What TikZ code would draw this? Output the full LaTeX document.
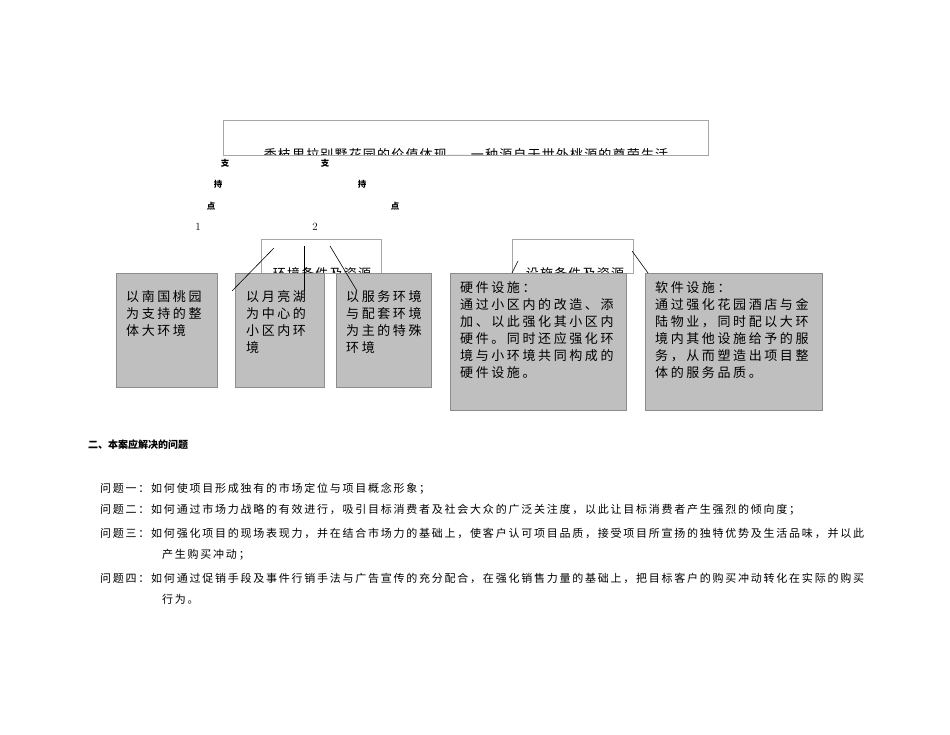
\documentclass[tikz,border=0pt]{standalone}
\usepackage{fontspec}
\newfontfamily\cjk{Noto Sans CJK SC}
\newfontfamily\cjksp[LetterSpace=20]{Noto Sans CJK SC}
\newfontfamily\cjkq[LetterSpace=16]{Noto Sans CJK SC}
\newfontfamily\cjkt[LetterSpace=9]{Noto Sans CJK SC}
\begin{document}
\begin{tikzpicture}[x=1pt,y=-1pt,
  frame/.style={draw=black!35,line width=0.7pt},
  gbox/.style={draw=black!45,fill=black!25,line width=0.6pt},
  gt/.style={anchor=north west,align=left,font=\cjksp\fontsize{13}{17}\selectfont,inner sep=0pt},
  sm/.style={font=\cjk\bfseries\fontsize{8.5}{9}\selectfont,inner sep=0pt},
  q/.style={anchor=west,font=\cjkq\fontsize{11}{12}\selectfont,inner sep=0pt},
  lab/.style={font=\cjkt\fontsize{13}{14}\selectfont,inner sep=0pt,anchor=base},
  ln/.style={line width=0.6pt}]
\useasboundingbox (0,0) rectangle (950,735);
\fill[white] (0,0) rectangle (950,735);
% title box
\begin{scope}
\clip (223,120) rectangle (708,155);
\node[lab] (tt) at (466,160) {秀枝里拉别墅花园的价值体现——一种源自于世外桃源的尊荣生活};
\end{scope}
\node[frame,minimum width=485,minimum height=35,anchor=north west,inner sep=0pt] (title) at (223,120) {};
\node[sm] (z1) at (225,163) {支};
\node[sm] (z2) at (325,163) {支};
\node[sm] (c1) at (218,184) {持};
\node[sm] (c2) at (362,184) {持};
\node[sm] (d1) at (211,206) {点};
\node[sm] (d2) at (395,206) {点};
\node[font=\fontsize{11}{12}\selectfont,inner sep=0pt] (n1) at (198,227) {1};
\node[font=\fontsize{11}{12}\selectfont,inner sep=0pt] (n2) at (315,227) {2};
% env / facility boxes
\begin{scope}
\clip (261,239) rectangle (381,273);
\node[lab] (envt) at (322,279) {环境条件及资源};
\end{scope}
\node[frame,minimum width=120,minimum height=34,anchor=north west,inner sep=0pt] (env) at (261,239) {};
\begin{scope}
\clip (512,239) rectangle (633,273);
\node[lab] (fact) at (575,279) {设施条件及资源};
\end{scope}
\node[frame,minimum width=121,minimum height=34,anchor=north west,inner sep=0pt] (fac) at (512,239) {};
% gray boxes
\node[gbox,minimum width=101,minimum height=114,anchor=north west,inner sep=0pt] (A) at (116,273) {};
\node[gbox,minimum width=89,minimum height=114,anchor=north west,inner sep=0pt] (B) at (235,273) {};
\node[gbox,minimum width=95,minimum height=114,anchor=north west,inner sep=0pt] (C) at (336,273) {};
\node[gbox,minimum width=176,minimum height=137,anchor=north west,inner sep=0pt] (D) at (450,273) {};
\node[gbox,minimum width=177,minimum height=137,anchor=north west,inner sep=0pt] (E) at (645,273) {};
\node[gt] (At) at (126,290) {以南国桃园\\为支持的整\\体大环境};
\node[gt] (Bt) at (246,290) {以月亮湖\\为中心的\\小区内环\\境};
\node[gt] (Ct) at (346,290) {以服务环境\\与配套环境\\为主的特殊\\环境};
\node[gt] (Dt) at (460,281) {硬件设施：\\通过小区内的改造、添\\加、以此强化其小区内\\硬件。同时还应强化环\\境与小环境共同构成的\\硬件设施。};
\node[gt] (Et) at (655,281) {软件设施：\\通过强化花园酒店与金\\陆物业，同时配以大环\\境内其他设施给予的服\\务，从而塑造出项目整\\体的服务品质。};
% connectors
\coordinate (e1) at (274,248); \coordinate (e2) at (304,246); \coordinate (e3) at (330,246);
\coordinate (a1) at (232,291); \coordinate (b1) at (304,291); \coordinate (c3) at (357,291);
\draw[ln] (e1) -- (a1);
\draw[ln] (e2) -- (b1);
\draw[ln] (e3) -- (c3);
\coordinate (f1) at (518,261); \coordinate (f2) at (512,273);
\coordinate (f3) at (632,251); \coordinate (f4) at (648,273);
\draw[ln] (f1) -- (f2);
\draw[ln] (f3) -- (f4);
% bottom text
\node[anchor=west,font=\cjk\bfseries\fontsize{10}{11}\selectfont,inner sep=0pt] (h) at (88,445) {二、本案应解决的问题};
\node[q] (q1) at (100,489) {问题一：如何使项目形成独有的市场定位与项目概念形象；};
\node[q] (q2) at (100,510) {问题二：如何通过市场力战略的有效进行，吸引目标消费者及社会大众的广泛关注度，以此让目标消费者产生强烈的倾向度；};
\node[q] (q3) at (100,533) {问题三：如何强化项目的现场表现力，并在结合市场力的基础上，使客户认可项目品质，接受项目所宣扬的独特优势及生活品味，并以此};
\node[q] (q3b) at (162,555) {产生购买冲动；};
\node[q] (q4) at (100,578) {问题四：如何通过促销手段及事件行销手法与广告宣传的充分配合，在强化销售力量的基础上，把目标客户的购买冲动转化在实际的购买};
\node[q] (q4b) at (162,599) {行为。};
\end{tikzpicture}
\end{document}
